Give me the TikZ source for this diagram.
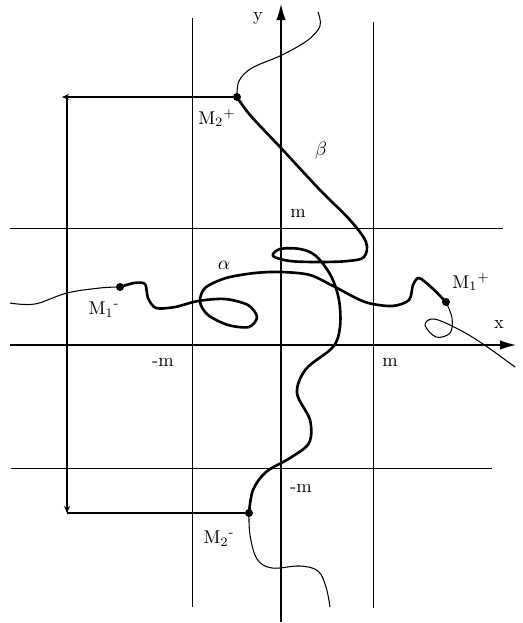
\documentclass[tikz,border=0pt]{standalone}
\usepackage{tikz}
\usetikzlibrary{arrows.meta}

\begin{document}
\begin{tikzpicture}[
    x=0.02cm, y=-0.02cm,
    axis/.style={line width=1.4pt, -{Latex[length=3.4mm, width=1.9mm]}},
    gridline/.style={line width=0.5pt},
    guide/.style={line width=0.6pt},
    thickcurve/.style={line width=1.5pt, line join=round},
    thincurve/.style={line width=0.6pt},
    dot/.style={circle, fill, inner sep=0pt, minimum size=1.6mm},
    lbl/.style={inner sep=1pt, font=\fontsize{10.5}{12}\selectfont},
  ]
  \useasboundingbox (0,0) rectangle (522,623);

  % ---- grid of the strip |x|, |y| < m ----
  \draw[gridline] (192,18) -- (192,607);
  \draw[gridline] (373,22) -- (373,608);
  \draw[gridline] (10,228) -- (503,228);
  \draw[gridline] (11,468) -- (492,468);

  % ---- axes ----
  \draw[axis] (10,345) -- (517,345);
  \draw[axis] (281,622) -- (281,3);
  \node[lbl] (ylbl) at (258,18) {y};
  \node[lbl] (xlbl) at (499,325) {x};
  \node[lbl] (mtop) at (298,213) {m};
  \node[lbl] (mbot) at (301,488) {-m};
  \node[lbl] (mleft) at (163,362) {-m};
  \node[lbl] (mright) at (390,362) {m};

  % ---- marked points ----
  \node[dot] (M2p) at (237,97) {};
  \node[dot] (M2m) at (249,513) {};
  \node[dot] (M1m) at (120,287) {};
  \node[dot] (M1p) at (446,302) {};

  \node[lbl] at (217,118) {M\textsubscript{2}\textsuperscript{+}};
  \node[lbl] at (219,539) {M\textsubscript{2}\textsuperscript{-}};
  \node[lbl] at (104,310) {M\textsubscript{1}\textsuperscript{-}};
  \node[lbl] at (471,282) {M\textsubscript{1}\textsuperscript{+}};
  \node[lbl] (beta) at (321,151) {$\beta$};
  \node[lbl] (alpha) at (224,265) {$\alpha$};

  % ---- projection of M2+ down to M2- ----
  \coordinate (tipL) at (62,97);
  \coordinate (cornT) at (67,97);
  \coordinate (cornB) at (67,513);
  \draw[guide, -{Stealth[length=1.4mm, width=1.2mm]}] (M2p) -- (tipL);
  \draw[guide, -{Stealth[length=1.4mm, width=1.2mm]}] (cornT) -- (cornB);
  \draw[guide] (cornB) -- (M2m);

  % ---- curve beta ----
  \draw[thincurve] plot[smooth, tension=0.6] coordinates {
    (318,12) (320,26) (308,40) (282,55) (252,68) (239,81) (237,97)};
  \draw[thickcurve] plot[smooth, tension=0.55] coordinates {
    (237,97) (250,115) (281,148) (320,190) (350,220) (366,242) (364,257)
    (348,261) (320,262) (290,261) (273,256) (280,249) (300,249) (316,256)
    (331,276) (339,300) (340,327) (333,347) (306,369) (297,393) (310,420)
    (309,443) (290,458) (266,472) (253,490) (249,513)};
  \draw[thincurve] plot[smooth, tension=0.6] coordinates {
    (249,513) (250,535) (257,559) (272,568) (300,566) (318,571) (326,587) (330,607)};

  % ---- curve alpha ----
  \draw[thincurve] plot[smooth, tension=0.6] coordinates {
    (10,303) (35,304) (67,293) (100,288) (120,287)};
  \draw[thickcurve] plot[smooth, tension=0.5] coordinates {
    (120,287) (134,283) (145,284) (148,298) (156,308) (175,307) (198,301)
    (225,299) (248,305) (257,317) (249,327) (228,325) (208,315) (200,302)
    (205,288) (226,278) (255,273) (281,272) (310,275) (335,287) (365,302)
    (392,306) (409,300) (413,285) (419,278) (431,287) (446,302)};
  \draw[thincurve] plot[smooth, tension=0.6] coordinates {
    (446,302) (452,318) (450,333) (436,337) (425,325) (434,319) (458,329)
    (483,344) (515,367)};

\end{tikzpicture}
\end{document}
